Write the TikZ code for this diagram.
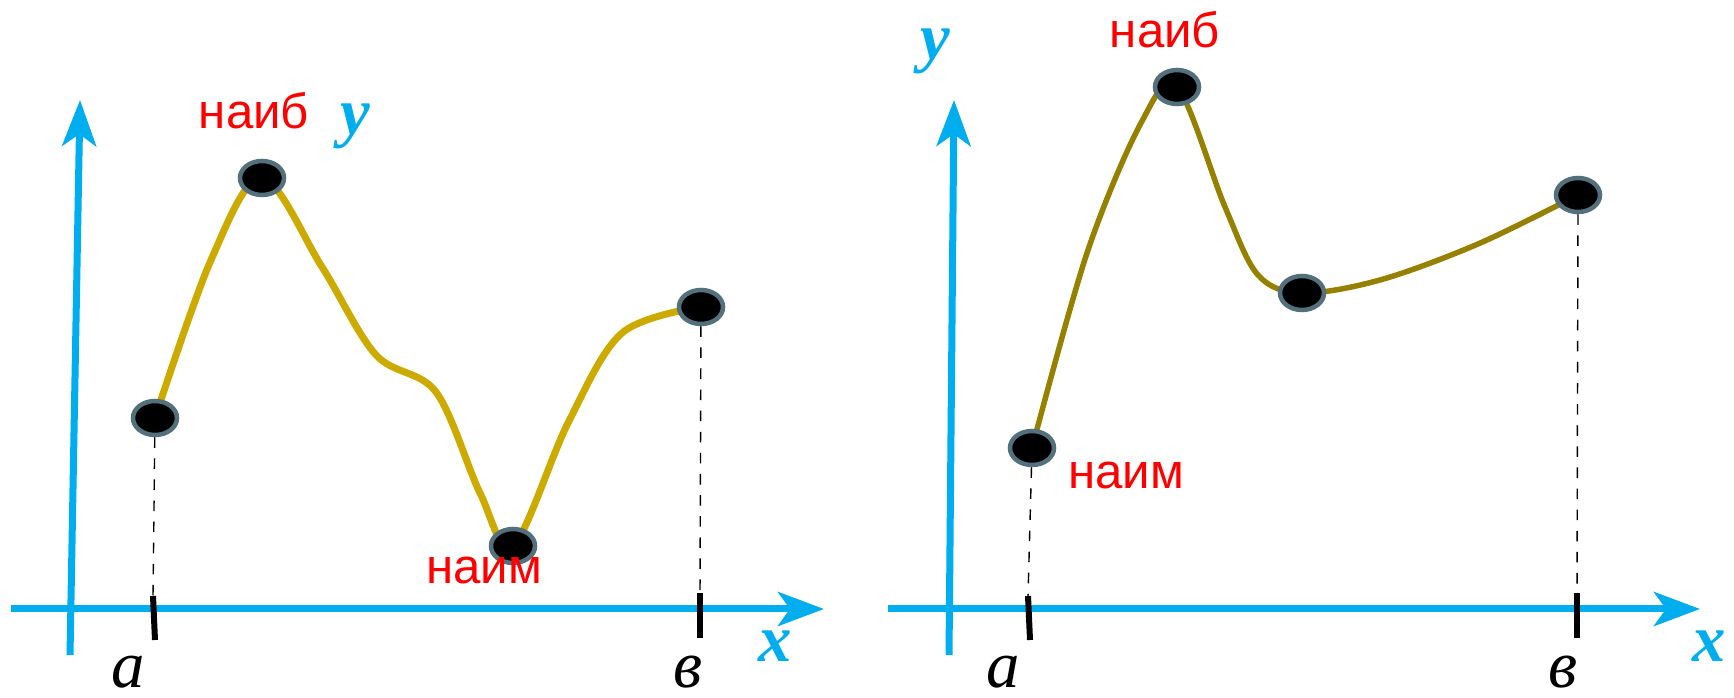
\documentclass[tikz,border=0pt]{standalone}
\usepackage{fontspec}
\setmainfont{Liberation Sans}
\newfontfamily\romfont{Liberation Serif}
\usetikzlibrary{shapes.geometric, arrows.meta}
\definecolor{axiscol}{RGB}{0, 174, 239}
\definecolor{curveA}{RGB}{204, 170, 0}
\definecolor{curveB}{RGB}{150, 128, 0}
\definecolor{dotrim}{RGB}{84, 112, 124}
\tikzstyle{axis}   = [-{Stealth[length=0.46cm, width=0.34cm, inset=0.12cm]}, line width=0.07cm, draw=axiscol]
\tikzstyle{dot}    = [ellipse, minimum width=0.44cm, minimum height=0.34cm, inner sep=0pt,
                      fill=black, draw=dotrim, line width=0.045cm]
\tikzstyle{tick}   = [line width=0.06cm, black]
\tikzstyle{guide}  = [dashed, thin, black]
\tikzstyle{extr}   = [red, font=\fontsize{14}{16}\selectfont]
\tikzstyle{axlab}  = [axiscol, anchor=base, inner sep=0pt, font=\romfont\bfseries\itshape\fontsize{19}{20}\selectfont]
\tikzstyle{endlab} = [black, anchor=base, inner sep=0pt, font=\romfont\itshape\fontsize{19}{20}\selectfont]

\begin{document}
\begin{tikzpicture}[x=0.01cm, y=-0.01cm]
  \useasboundingbox (0,0) rectangle (1734,698);

  % Left graph
  \draw [axis] (11,609) -- (824,609);
  \draw [axis] (70,655) -- (80,100);
  \draw [curveA, line width=0.07cm] plot[smooth, tension=0.55] coordinates
    {(155,418) (211,260) (262,178) (322,267) (376,355) (436,392) (480,493) (513,546)
     (568,423) (622,333) (701,307)};
  \node (l1) [dot] at (155,418) {};
  \node (l2) [dot] at (262,178) {};
  \node (l3) [dot] at (513,546) {};
  \node (l4) [dot] at (701,307) {};
  \coordinate (la) at (153,596);
  \coordinate (lb) at (700,593);
  \draw [tick] (la) -- (155,640);
  \draw [tick] (lb) -- (700,638);
  \draw [guide] (l1) -- (la);
  \draw [guide] (l4) -- (lb);

  \node (lmax) [extr] at (254,111) {наиб};
  \node (lmin) [extr] at (484,570) {наим};
  \node (ly) [axlab] at (355,135) {y};
  \node (lx) [axlab] at (775,662) {x};
  \node (lta) [endlab] at (128,688) {a};
  \node (ltb) [endlab] at (688,688) {в};

  % Right graph
  \draw [axis] (888,609) -- (1700,609);
  \draw [axis] (949,655) -- (954,100);
  \draw [curveB, line width=0.055cm] plot[smooth, tension=0.55] coordinates
    {(1032,448) (1087,253) (1141,123) (1177,87) (1225,207) (1258,275) (1302,293)
     (1380,280) (1478,244) (1578,195)};
  \node (r1) [dot] at (1032,448) {};
  \node (r2) [dot] at (1177,87) {};
  \node (r3) [dot] at (1302,293) {};
  \node (r4) [dot] at (1578,195) {};
  \coordinate (ra) at (1028,596);
  \coordinate (rb) at (1577,593);
  \draw [tick] (ra) -- (1030,640);
  \draw [tick] (rb) -- (1577,638);
  \draw [guide] (r1) -- (ra);
  \draw [guide] (r4) -- (rb);

  \node (rmax) [extr] at (1165,30) {наиб};
  \node (rmin) [extr] at (1126,476) {наим};
  \node (ry) [axlab] at (935,60) {y};
  \node (rx) [axlab] at (1709,662) {x};
  \node (rta) [endlab] at (1003,688) {a};
  \node (rtb) [endlab] at (1563,688) {в};
\end{tikzpicture}
\end{document}
